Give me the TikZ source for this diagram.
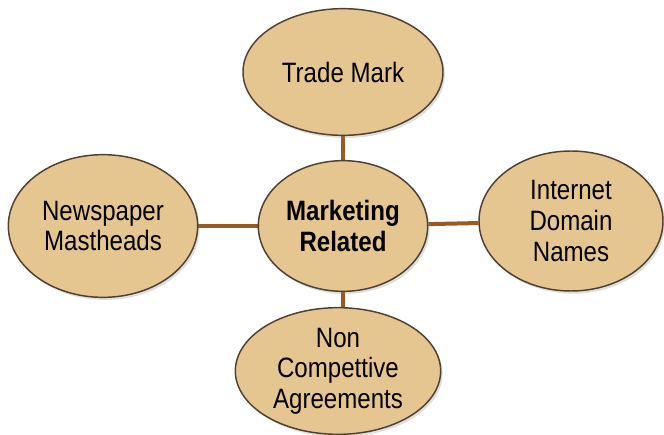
\documentclass[tikz,border=0pt]{standalone}
\usepackage{fontspec}
\setmainfont[FakeStretch=0.86]{Liberation Sans}
\usepackage{xcolor}
\usepackage{tikz}
\usetikzlibrary{shapes.geometric}
\usetikzlibrary{shadows}
\usetikzlibrary{backgrounds}

\definecolor{bubblefill}{HTML}{E6C690}
\definecolor{bubbleline}{HTML}{4E4032}
\definecolor{linkbrown}{HTML}{9A5A22}

\tikzset{
	bubble/.style={ellipse, draw=bubbleline, line width=1.1pt, fill=bubblefill, align=center,
		inner xsep=-5pt, inner ysep=0pt,
		font=\fontsize{21}{23}\selectfont,
		drop shadow={opacity=0.25, shadow xshift=1.5pt, shadow yshift=-2pt}},
	link/.style={draw=linkbrown, line width=3pt}
}

\begin{document}
\begin{tikzpicture}[x=0.75pt, y=-0.75pt]
		\useasboundingbox (0,0) rectangle (664,435);
		%elements
		\node at (343,226) (market) [bubble, minimum width=127pt, minimum height=98pt] {\textbf{Marketing}\\\textbf{Related}};

		\node at (343,72) (trade) [bubble, minimum width=150pt, minimum height=95pt] {Trade Mark};

		\node at (103,226) (news) [bubble, minimum width=142pt, minimum height=107pt] {Newspaper\\Mastheads};

		\node at (571,221) (domain) [bubble, minimum width=138pt, minimum height=105pt] {Internet\\Domain\\Names};

		\node at (338,371) (noncomp) [bubble, minimum width=154pt, minimum height=95pt] {Non\\Compettive\\Agreements};

		%links
		\begin{scope}[on background layer]
		\draw [link] (market) -- (trade);
		\draw [link] (market) -- (news);
		\draw [link] (market) -- (domain);
		\draw [link] (market.south) -- (noncomp.north -| market.south);
		\end{scope}
\end{tikzpicture}
\end{document}
